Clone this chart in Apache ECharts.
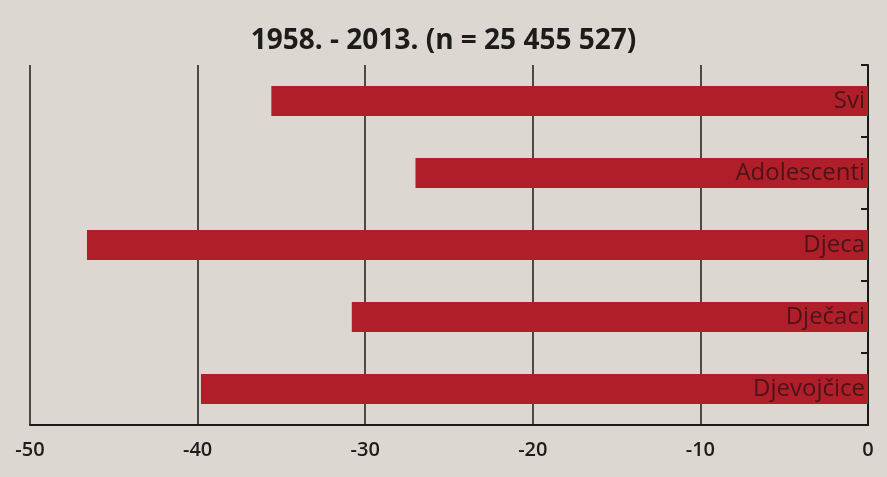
<!DOCTYPE html>
<html><head><meta charset="utf-8">
<script src="https://cdn.jsdelivr.net/npm/echarts@6/dist/echarts.min.js"></script>
<style>html,body{margin:0;padding:0;background:#dcd8d1}#c{width:887px;height:477px}</style>
</head><body><div id="c"></div>
<script>
const categories = ['Svi', 'Adolescenti', 'Djeca', 'Dječaci', 'Djevojčice'];
const values = [-35.6, -27, -46.6, -30.8, -39.8];
const xTicks = [-50, -40, -30, -20, -10, 0];
const titleText = '1958. - 2013. (n = 25 455 527)';
const font = '"Open Sans", sans-serif';
const chart = echarts.init(document.getElementById('c'));
chart.setOption({
  backgroundColor: '#dcd8d1',
  title: { text: titleText, left: 'center', top: 22,
    textStyle: { fontFamily: font, fontSize: 28, fontWeight: 'bold', color: '#1e1b1b' } },
  grid: { left: 30, right: 19, top: 65, bottom: 52 },
  xAxis: { type: 'value', min: xTicks[0], max: xTicks[xTicks.length-1], interval: 10,
    axisLine: { show: true, lineStyle: { color: '#1a1a1a', width: 2 } },
    axisTick: { show: false },
    splitLine: { show: true, lineStyle: { color: '#1a1a1a', width: 1.5 } },
    axisLabel: { fontFamily: font, fontSize: 20, fontWeight: 600, color: '#1e1b1b', margin: 15 } },
  yAxis: { type: 'category', data: categories, inverse: true, position: 'right',
    axisLine: { show: true, lineStyle: { color: '#1a1a1a', width: 2 } },
    axisTick: { show: true, inside: true, length: 7, lineStyle: { color: '#1a1a1a', width: 2 } },
    axisLabel: { show: false } },
  series: [{ type: 'bar', data: values, barWidth: 30,
    itemStyle: { color: '#b01e2a' },
    label: { show: true, position: 'insideRight', distance: 3,
      formatter: p => p.name,
      fontFamily: font, fontSize: 24, color: '#4a1418' } }]
});
</script></body></html>
